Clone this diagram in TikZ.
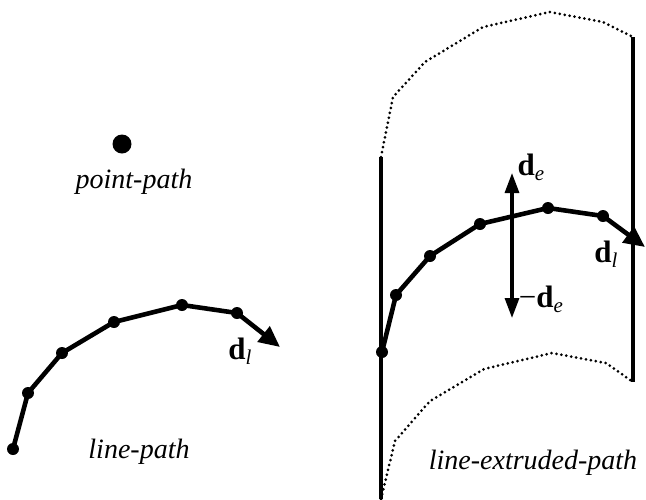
\documentclass[tikz,border=0pt]{standalone}
\usepackage{fontspec}
\setmainfont{Liberation Serif}
\usetikzlibrary{arrows.meta}
\newcommand{\vsub}[2]{\textbf{#1}\raisebox{-5pt}{\fontsize{21}{21}\selectfont\itshape\mdseries #2}}
\tikzset{
  pathline/.style={line width=4.6pt, line join=round, -{Triangle[length=21pt,width=19pt]}},
  plainline/.style={line width=4.6pt, line join=round},
  wall/.style={line width=4.4pt},
  dotline/.style={line width=3pt, line cap=round, dash pattern=on 0pt off 5pt},
  vertex/.style={circle, fill=black, inner sep=0pt, minimum size=12pt},
  bigdot/.style={circle, fill=black, inner sep=0pt, minimum size=19pt},
  caption/.style={font=\fontsize{28}{32}\selectfont\itshape, inner sep=0pt},
  vec/.style={font=\fontsize{31}{34}\selectfont, inner sep=0pt},
  dearrow/.style={line width=3.2pt, {Triangle[length=20pt,width=14pt]}-{Triangle[length=20pt,width=14pt]}}
}
\begin{document}
\begin{tikzpicture}[x=1pt,y=-1pt]
\useasboundingbox (0,0) rectangle (646,499);

% point-path
\node[bigdot] (pt) at (122,144) {};
\node[caption] (ptl) at (134,182) {point-path};

% line-path
\node[vertex] (a1) at (13,449) {};
\node[vertex] (a2) at (28,393) {};
\node[vertex] (a3) at (62,353) {};
\node[vertex] (a4) at (114,322) {};
\node[vertex] (a5) at (182,305) {};
\node[vertex] (a6) at (237,313) {};
\coordinate (atip) at (280,347);
\draw[plainline] (a1.center) -- (a2.center) -- (a3.center) -- (a4.center) -- (a5.center) -- (a6.center);
\draw[pathline] (a6.center) -- (atip);
\node[vec] (dl1) at (240,351) {\vsub{d}{l}};
\node[caption] (lpl) at (139,452) {line-path};

% line-extruded-path
\coordinate (lt) at (381,157);
\coordinate (lb) at (381,499);
\coordinate (rt) at (633,37);
\coordinate (rb) at (633,382);
\draw[wall] (lt) -- (lb);
\draw[wall] (rt) -- (rb);

\coordinate (t1) at (393,97);
\coordinate (t2) at (425,62);
\coordinate (t3) at (483,27);
\coordinate (t4) at (550,12);
\coordinate (t5) at (603,22);
\draw[dotline] (lt) -- (t1) -- (t2) -- (t3) -- (t4) -- (t5) -- (rt);

\coordinate (b1) at (395,441);
\coordinate (b2) at (430,401);
\coordinate (b3) at (484,369);
\coordinate (b4) at (552,353);
\coordinate (b5) at (606,363);
\draw[dotline] (lb) -- (b1) -- (b2) -- (b3) -- (b4) -- (b5) -- (rb);

\node[vertex] (e1) at (382,352) {};
\node[vertex] (e2) at (396,295) {};
\node[vertex] (e3) at (430,256) {};
\node[vertex] (e4) at (480,224) {};
\node[vertex] (e5) at (548,208) {};
\node[vertex] (e6) at (603,216) {};
\coordinate (etip) at (645,247);
\draw[plainline] (e1.center) -- (e2.center) -- (e3.center) -- (e4.center) -- (e5.center) -- (e6.center);
\draw[pathline] (e6.center) -- (etip);

\coordinate (deup) at (512,173);
\coordinate (dedn) at (512,318);
\draw[dearrow] (dedn) -- (deup);
\node[vec] (de) at (531,167) {\vsub{d}{e}};
\node[vec] (mde) at (541,299) {−\vsub{d}{e}};
\node[vec] (dl2) at (606,254) {\vsub{d}{l}};
\node[caption] (lepl) at (533,463) {line-extruded-path};
\end{tikzpicture}
\end{document}
